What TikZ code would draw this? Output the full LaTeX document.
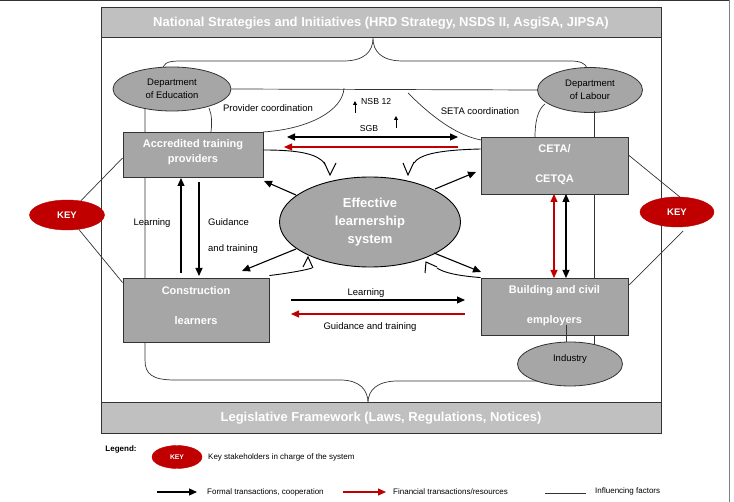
\documentclass[tikz,border=0pt]{standalone}
\usepackage{fontspec}
\setmainfont{Liberation Sans}
\usetikzlibrary{shapes.geometric,arrows.meta}
\definecolor{bandgray}{HTML}{C0C0C0}
\definecolor{boxgray}{HTML}{A6A6A6}
\definecolor{keyred}{HTML}{C00000}
\definecolor{linegray}{HTML}{333333}
\begin{document}
\begin{tikzpicture}[x=1pt,y=-1pt,
  band/.style={draw=linegray,line width=1pt,fill=bandgray,minimum width=560pt,inner sep=0pt,
    font=\fontsize{13}{15}\selectfont\bfseries,text=white},
  boxnode/.style={draw=linegray,line width=0.9pt,fill=boxgray,inner sep=0pt},
  boxtext/.style={align=center,inner sep=0pt,text=white,font=\fontsize{11}{15}\selectfont\bfseries},
  grell/.style={ellipse,draw=linegray,line width=0.8pt,fill=boxgray,inner sep=0pt,align=center,
    font=\fontsize{9.5}{13}\selectfont},
  keyell/.style={ellipse,draw=keyred,fill=keyred,inner sep=0pt,text=white,
    font=\fontsize{9.5}{11}\selectfont\bfseries},
  lbl/.style={inner sep=0pt,font=\fontsize{9.5}{11}\selectfont},
  legtext/.style={inner sep=0pt,anchor=west,font=\fontsize{8}{9}\selectfont},
  inf/.style={draw=linegray,line width=0.7pt},
  formal/.style={-{Triangle[length=8pt,width=7pt]},line width=1.1pt,black},
  formaltwo/.style={{Triangle[length=8pt,width=7pt]}-{Triangle[length=8pt,width=7pt]},line width=1.1pt,black},
  fin/.style={-{Triangle[length=8pt,width=7pt]},line width=1.1pt,keyred},
  fintwo/.style={{Triangle[length=8pt,width=7pt]}-{Triangle[length=8pt,width=7pt]},line width=1.1pt,keyred},
  small/.style={-{Triangle[length=4pt,width=4pt]},line width=0.9pt,black},
  curv/.style={line width=0.9pt,black},
  vmark/.style={line width=1pt,black,line join=miter}
]
\useasboundingbox (0,0) rectangle (734,502);
% outer page border
\draw[linegray,line width=1.2pt] (0,0.6) -- (729,0.6);
\draw[gray,line width=0.8pt] (729,0) -- (729,502);

% main frame
\draw[draw=linegray,line width=1pt] (101,8) rectangle (661,434);
\node[band,minimum height=30pt] (topband) at (381,23) {National Strategies and Initiatives (HRD Strategy, NSDS II, AsgiSA, JIPSA)};
\node[band,minimum height=31pt] (botband) at (381,418.5) {Legislative Framework (Laws, Regulations, Notices)};

% ellipses (departments, industry)
\node[grell,minimum width=118pt,minimum height=44pt] (doe) at (172,89) {Department\\of Education};
\node[grell,minimum width=105pt,minimum height=45pt] (dol) at (590,90) {Department\\of Labour};
\node[grell,minimum width=105pt,minimum height=44pt] (ind) at (570,364) {};
\node[lbl] (indt) at (570,359) {Industry};

% influencing factor lines
\coordinate (bt) at (373,38);
\draw[inf] (163,67) .. controls (166,61) and (172,61) .. (185,61) -- (343,61)
  .. controls (364,61) and (373,52) .. (bt) .. controls (373,52) and (382,61) .. (403,61) -- (570,61)
  .. controls (580,61) and (585,63) .. (587,68);
\draw[inf] (doe.east) -- (dol.west);
\draw[inf] (344,88) .. controls (343,110) and (310,129) .. (263,132);
\draw[inf] (408,93) .. controls (430,115) and (455,135) .. (481,140);
\draw[inf] (209,108) .. controls (212,115) and (212,123) .. (211,132);
\coordinate (bb) at (368,403);
\draw[inf] (145,108.6) -- (145,360) .. controls (145,374) and (152,380) .. (175,380) -- (340,380)
  .. controls (360,380) and (368,390) .. (bb) .. controls (368,390) and (377,381) .. (398,381) -- (537,381);
\draw[inf] (594,111.5) -- (594,344.5);
\draw[inf] (545,104) .. controls (537,110) and (535,124) .. (535,137);

% boxes
\node[boxnode,minimum width=140pt,minimum height=45pt] (pb) at (193,154.5) {};
\node[boxtext] (pbt) at (193,152.5) {Accredited training\\providers};
\node[boxnode,minimum width=147pt,minimum height=57pt] (ceta) at (554.5,165.5) {};
\node[boxtext,font=\fontsize{11}{30}\selectfont\bfseries] (cetat) at (554.5,165) {CETA/\\CETQA};
\node[boxnode,minimum width=146pt,minimum height=64pt] (cl) at (196,310) {};
\node[boxtext,font=\fontsize{11}{30}\selectfont\bfseries] (clt) at (196,306) {Construction\\learners};
\node[boxnode,minimum width=147pt,minimum height=57pt] (bc) at (554.5,306.5) {};
\node[boxtext,font=\fontsize{11}{30}\selectfont\bfseries] (bct) at (554.5,306) {Building and civil\\employers};
\draw[inf] (566,325) -- (566,342.2);

% central ellipse
\node[ellipse,draw=black,line width=0.9pt,fill=boxgray,minimum width=181pt,minimum height=90pt,inner sep=0pt,
  align=center,text=white,font=\fontsize{13}{18}\selectfont\bfseries] (els) at (370,222) {Effective\\learnership\\system};

% key ellipses
\node[keyell,minimum width=75pt,minimum height=30pt] (keyL) at (67,215) {KEY};
\node[keyell,minimum width=74pt,minimum height=30pt] (keyR) at (677,212) {KEY};
\draw[inf] (keyL) -- ([yshift=-3.5pt]pb.west);
\draw[inf] (keyL) -- ([yshift=-5pt]cl.north west);
\draw[inf] (keyR.80) -- ([yshift=10.5pt]ceta.east);
\draw[inf] ([yshift=-4pt]keyR.-68) -- ([yshift=-8pt]bc.north east);

% top arrows
\coordinate (sgbL) at (287,137); \coordinate (sgbR) at (458,137);
\draw[formaltwo] (sgbL) -- (sgbR);
\coordinate (finR) at (458,147); \coordinate (finL) at (284,147);
\draw[fin] (finR) -- (finL);
\node[lbl,font=\fontsize{8.7}{10}\selectfont] (sgb) at (369,129) {SGB};
\node[lbl,font=\fontsize{8.7}{10}\selectfont,anchor=west] (nsb) at (361,102) {NSB 12};
\draw[small] (355,113) -- (355,101);
\draw[small] (396,128) -- (396,116);
\node[lbl] (provc) at (268,108) {Provider coordination};
\node[lbl] (setac) at (480,111) {SETA coordination};

% vertical arrows left
\draw[formal] (181,273) -- (181,178);
\draw[formal] (199,182) -- (199,276);
\node[lbl] (learnL) at (152,223) {Learning};
\node[lbl,anchor=west] (guidL) at (208,222) {Guidance};
\node[lbl,anchor=west] (andtr) at (208,249) {and training};

% horizontal arrows bottom
\draw[formal] (291,300) -- (465,300);
\draw[fin] (465,314) -- (291,314);
\node[lbl] (learnB) at (366,293) {Learning};
\node[lbl] (guidB) at (370,327) {Guidance and training};

% vertical arrows right
\draw[fintwo] (554,194) -- (554,278);
\draw[formaltwo] (566,194) -- (566,278);

% arrows out of the central ellipse
\draw[formal] (296,195) -- (264,181);
\draw[formal] (435,189) -- (476,172);
\draw[formal] (296,249) -- (242,271);
\draw[formal] (434,253) -- (481,272);

% curved arrows with open V heads
\coordinate (v1) at (330,175);
\coordinate (v2) at (408,175);
\coordinate (v3) at (308,257);
\coordinate (v4) at (426,262);
\draw[curv] ([yshift=4.5pt]pb.east) .. controls (300,150) and (318,154) .. (325,164);
\draw[vmark] (324,162) -- (v1) -- (336,163);
\draw[curv] ([yshift=16.5pt]ceta.west) .. controls (440,150) and (420,154) .. (414,163);
\draw[vmark] (403,163) -- (v2) -- (414,162);
\draw[curv] ([yshift=2pt]cl.north east) .. controls (290,273) and (306,270) .. (312,268);
\draw[vmark] (303,267) -- (v3) -- (313,268);
\draw[curv] (bc.north west) .. controls (460,276) and (444,273) .. (437,268);
\draw[vmark] (425,273) -- (v4) -- (437,267);

% legend
\node[inner sep=0pt,font=\fontsize{8}{9}\selectfont\bfseries] (leg) at (121,449) {Legend:};
\node[keyell,minimum width=50pt,minimum height=23pt,font=\fontsize{6.8}{8}\selectfont\bfseries] (keyS) at (177,457) {KEY};
\node[legtext] (legk) at (208,457) {Key stakeholders in charge of the system};
\coordinate (la1) at (157,492); \coordinate (la2) at (197,492);
\draw[formal] (la1) -- (la2);
\node[legtext] (legf) at (207,492) {Formal transactions, cooperation};
\coordinate (lr1) at (343,492); \coordinate (lr2) at (386,492);
\draw[fin] (lr1) -- (lr2);
\node[legtext] (legr) at (393,492) {Financial transactions/resources};
\coordinate (li1) at (545,493); \coordinate (li2) at (586,493);
\draw[inf] (li1) -- (li2);
\node[legtext] (legi) at (595,491) {Influencing factors};
\end{tikzpicture}
\end{document}
